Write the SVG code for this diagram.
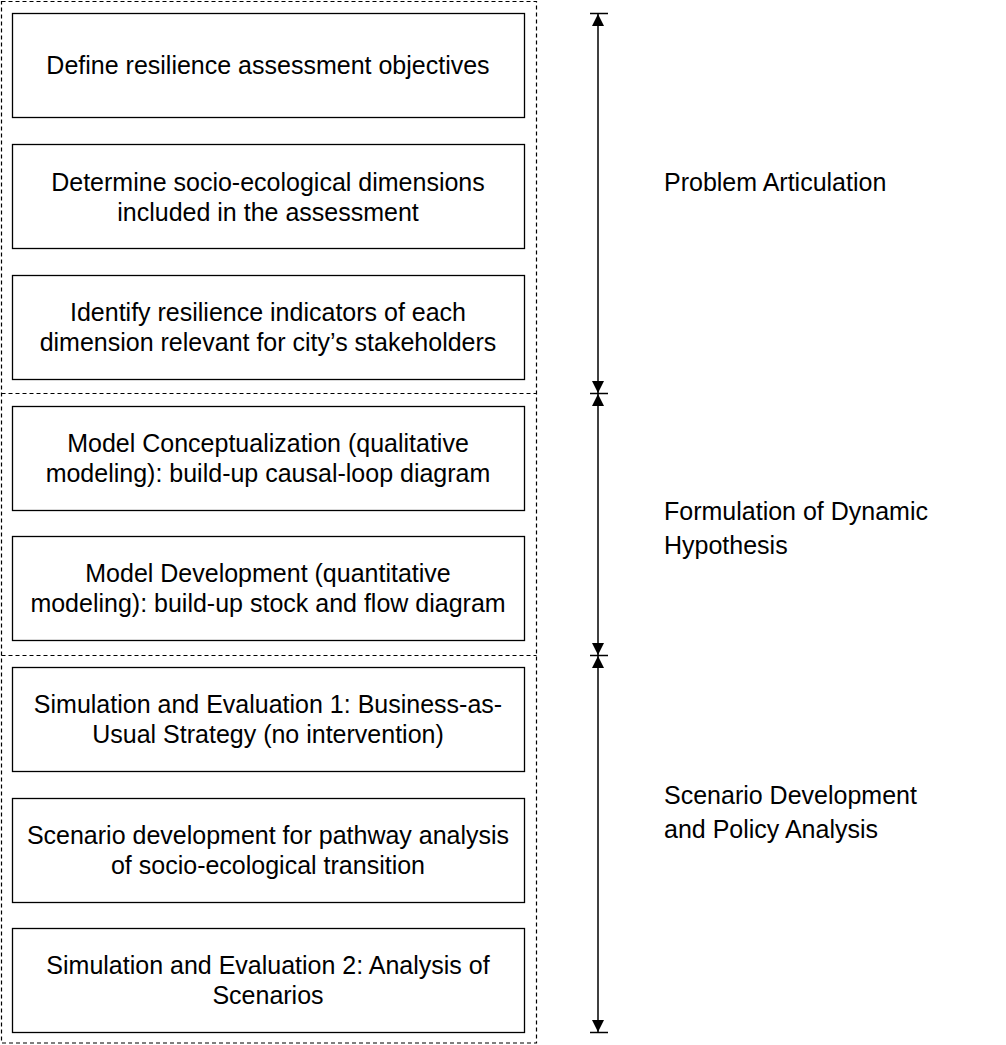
<svg xmlns="http://www.w3.org/2000/svg" width="1006" height="1045" viewBox="0 0 1006 1045">
<style>
.box{fill:#fff;stroke:#000;stroke-width:1.3}
.dash{fill:none;stroke:#000;stroke-width:1.2;stroke-dasharray:4 3}
.t{font-family:"Liberation Sans",Arial,sans-serif;font-size:25px;fill:#000;text-anchor:middle}
.lbl{font-family:"Liberation Sans",Arial,sans-serif;font-size:25px;fill:#000}
.ln{stroke:#000;stroke-width:1.5;fill:none}
</style>
<defs>
<marker id="ah" viewBox="0 0 12 12" refX="12" refY="6" markerWidth="12" markerHeight="12" markerUnits="userSpaceOnUse" orient="auto-start-reverse">
<path d="M0,0 L12,6 L0,12 Z" fill="#000"/>
</marker>
</defs>
<rect width="1006" height="1045" fill="#fff"/>
<g id="frame">
<rect class="dash" x="1.5" y="1.5" width="535" height="1041.5"/>
<line class="dash" x1="1.5" y1="393.5" x2="536.5" y2="393.5"/>
<line class="dash" x1="1.5" y1="655.5" x2="536.5" y2="655.5"/>
</g>
<g id="n1"><rect class="box" x="12.5" y="13.5" width="512" height="104"/><text class="t" x="268" y="74">Define resilience assessment objectives</text></g>
<g id="n2"><rect class="box" x="12.5" y="144.5" width="512" height="104"/><text class="t" x="268" y="191">Determine socio-ecological dimensions</text><text class="t" x="268" y="221">included in the assessment</text></g>
<g id="n3"><rect class="box" x="12.5" y="275.5" width="512" height="104"/><text class="t" x="268" y="321">Identify resilience indicators of each</text><text class="t" x="268" y="351">dimension relevant for city’s stakeholders</text></g>
<g id="n4"><rect class="box" x="12.5" y="406.5" width="512" height="104"/><text class="t" x="268" y="452">Model Conceptualization (qualitative</text><text class="t" x="268" y="482">modeling): build-up causal-loop diagram</text></g>
<g id="n5"><rect class="box" x="12.5" y="536.5" width="512" height="104"/><text class="t" x="268" y="582">Model Development (quantitative</text><text class="t" x="268" y="612">modeling): build-up stock and flow diagram</text></g>
<g id="n6"><rect class="box" x="12.5" y="667.5" width="512" height="104"/><text class="t" x="268" y="713">Simulation and Evaluation 1: Business-as-</text><text class="t" x="268" y="743">Usual Strategy (no intervention)</text></g>
<g id="n7"><rect class="box" x="12.5" y="798.5" width="512" height="104"/><text class="t" x="268" y="844">Scenario development for pathway analysis</text><text class="t" x="268" y="874">of socio-ecological transition</text></g>
<g id="n8"><rect class="box" x="12.5" y="928.5" width="512" height="104"/><text class="t" x="268" y="974">Simulation and Evaluation 2: Analysis of</text><text class="t" x="268" y="1004">Scenarios</text></g>
<g id="connectors">
<line class="ln" x1="590" y1="13.5" x2="608" y2="13.5"/>
<line class="ln" x1="590" y1="393.5" x2="608" y2="393.5"/>
<line class="ln" x1="590" y1="655.5" x2="608" y2="655.5"/>
<line class="ln" x1="590" y1="1032.5" x2="608" y2="1032.5"/>
<line class="ln" x1="598" y1="14" x2="598" y2="393" marker-start="url(#ah)" marker-end="url(#ah)"/>
<line class="ln" x1="598" y1="394" x2="598" y2="655" marker-start="url(#ah)" marker-end="url(#ah)"/>
<line class="ln" x1="598" y1="656" x2="598" y2="1032" marker-start="url(#ah)" marker-end="url(#ah)"/>
</g>
<g id="labels">
<text class="lbl" x="664" y="191">Problem Articulation</text>
<text class="lbl" x="664" y="520">Formulation of Dynamic</text>
<text class="lbl" x="664" y="554">Hypothesis</text>
<text class="lbl" x="664" y="804">Scenario Development</text>
<text class="lbl" x="664" y="838">and Policy Analysis</text>
</g>
</svg>
